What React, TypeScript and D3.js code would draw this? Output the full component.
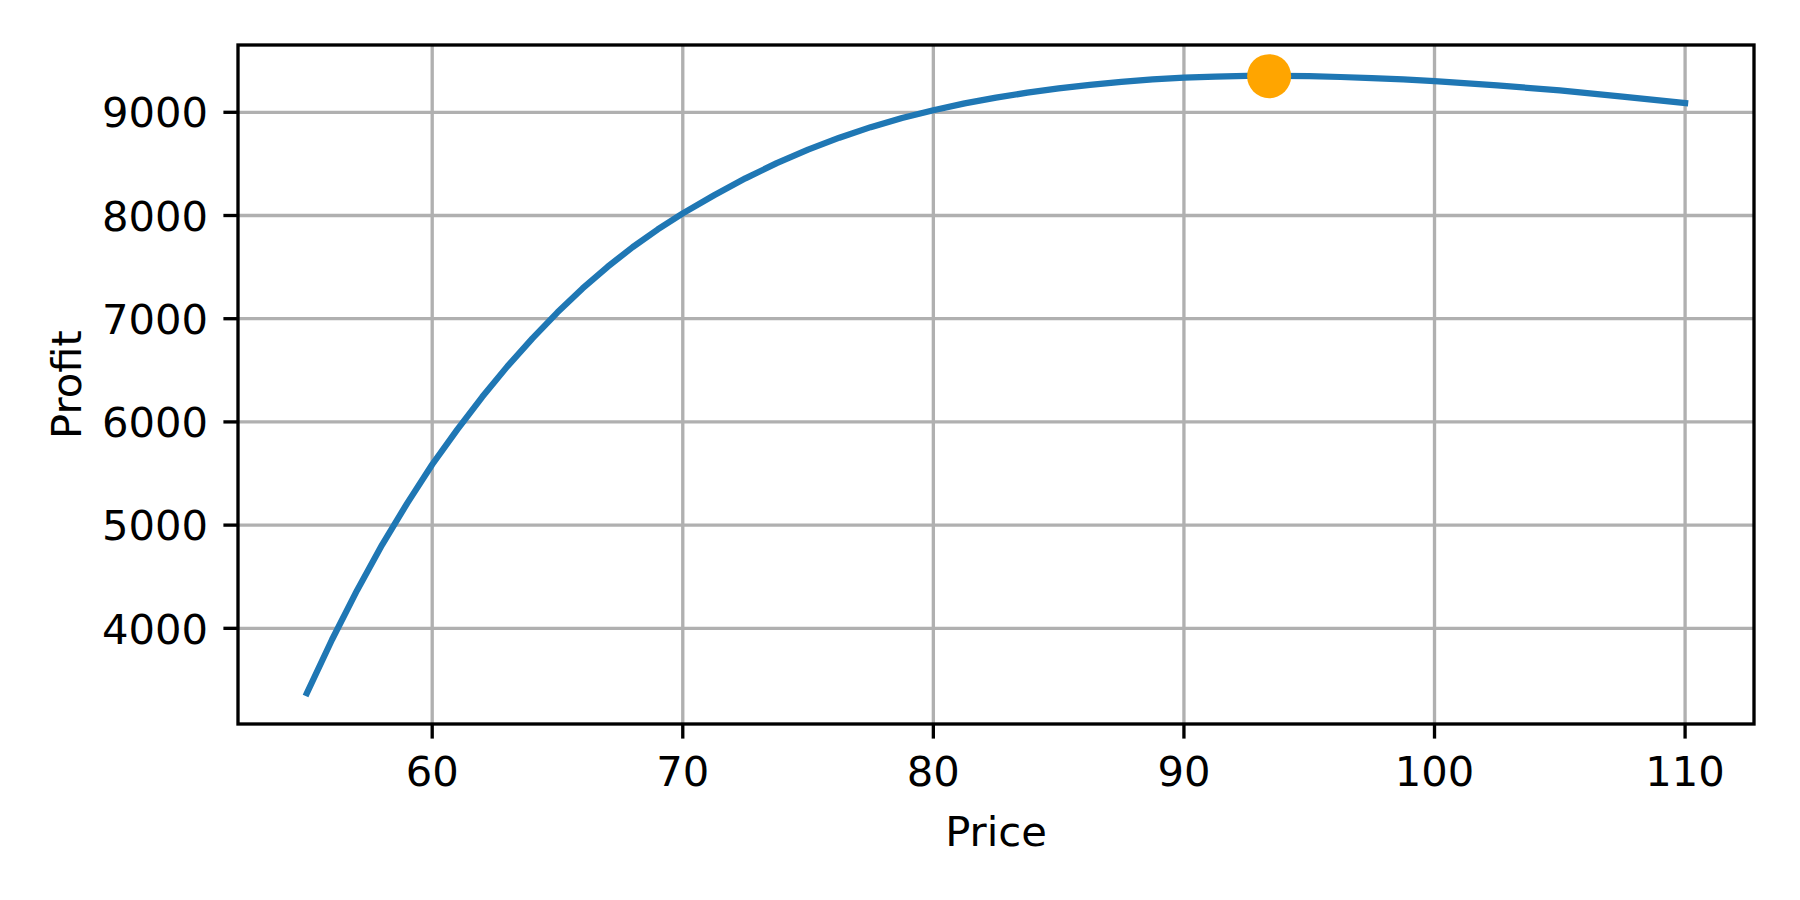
import React from "react";
import * as d3 from "d3";

const prices = [55, 56, 57, 58, 59, 60, 61, 62, 63, 64, 65, 66, 67, 68, 69, 70, 71.25, 72.5, 73.75, 75, 76.25, 77.5, 78.75, 80, 81.25, 82.5, 83.75, 85, 86.25, 87.5, 88.75, 90, 91.25, 92.5, 93.75, 95, 96.25, 97.5, 98.75, 100, 102.5, 105, 107.5, 110];
const profits = [3372, 3889, 4367, 4809, 5211, 5587, 5925, 6243, 6538, 6810, 7062, 7293, 7503, 7694, 7865, 8021, 8196, 8360, 8507, 8638, 8754, 8856, 8944, 9020, 9086, 9142, 9190, 9231, 9266, 9295, 9318, 9336, 9346, 9352, 9353, 9350, 9342, 9332, 9318, 9302, 9261, 9212, 9152, 9090];
const optimumPrice = [93.4];
const optimumProfit = [9350];
const xTicks = [60, 70, 80, 90, 100, 110];
const yTicks = [4000, 5000, 6000, 7000, 8000, 9000];

const W = 1800;
const H = 900;
const left = 238;
const right = 1754;
const top = 45;
const bottom = 724;
const FONT = "'DejaVu Sans', sans-serif";
const FS = 41.7;
const LW = 3.33;

export default function App() {
  const xmin = d3.min(prices) as number;
  const xmax = d3.max(prices) as number;
  const ymin = d3.min(profits) as number;
  const ymax = Math.max(d3.max(profits) as number, optimumProfit[0]);
  const xpad = (xmax - xmin) * 0.05;
  const ypad = (ymax - ymin) * 0.05;
  const x = d3.scaleLinear().domain([xmin - xpad, xmax + xpad]).range([left, right]);
  const y = d3.scaleLinear().domain([ymin - ypad, ymax + ypad]).range([bottom, top]);
  const pts = prices.map((p, i) => [p, profits[i]] as [number, number]);
  const line = d3.line<[number, number]>().x((d) => x(d[0])).y((d) => y(d[1]));

  return (
    <svg
      width={W}
      height={H}
      style={{ position: "absolute", left: 0, top: 0, background: "#fff" }}
    >
      <rect x={0} y={0} width={W} height={H} fill="#fff" />
      {xTicks.map((t) => (
        <line key={"gx" + t} x1={x(t)} x2={x(t)} y1={top} y2={bottom} stroke="#b0b0b0" strokeWidth={LW} />
      ))}
      {yTicks.map((t) => (
        <line key={"gy" + t} x1={left} x2={right} y1={y(t)} y2={y(t)} stroke="#b0b0b0" strokeWidth={LW} />
      ))}
      <path
        d={line(pts) || ""}
        fill="none"
        stroke="#1f77b4"
        strokeWidth={6.25}
        strokeLinejoin="round"
        strokeLinecap="square"
      />
      {optimumPrice.map((p, i) => (
        <circle key={"m" + i} cx={x(p)} cy={y(optimumProfit[i])} r={22} fill="#ffa500" />
      ))}
      <rect x={left} y={top} width={right - left} height={bottom - top} fill="none" stroke="#000" strokeWidth={LW} strokeLinejoin="miter" />
      {xTicks.map((t) => (
        <g key={"xt" + t}>
          <line x1={x(t)} x2={x(t)} y1={bottom} y2={bottom + 14.6} stroke="#000" strokeWidth={LW} />
          <text x={x(t)} y={786} textAnchor="middle" fontFamily={FONT} fontSize={FS} fill="#000">
            {t}
          </text>
        </g>
      ))}
      {yTicks.map((t) => (
        <g key={"yt" + t}>
          <line x1={left - 14.6} x2={left} y1={y(t)} y2={y(t)} stroke="#000" strokeWidth={LW} />
          <text x={208} y={y(t) + 15.2} textAnchor="end" fontFamily={FONT} fontSize={FS} fill="#000">
            {t}
          </text>
        </g>
      ))}
      <text x={(left + right) / 2} y={846} textAnchor="middle" fontFamily={FONT} fontSize={FS} fill="#000">
        Price
      </text>
      <text
        transform={`translate(81, ${(top + bottom) / 2}) rotate(-90)`}
        textAnchor="middle"
        fontFamily={FONT}
        fontSize={FS}
        fill="#000"
      >
        Profit
      </text>
    </svg>
  );
}
